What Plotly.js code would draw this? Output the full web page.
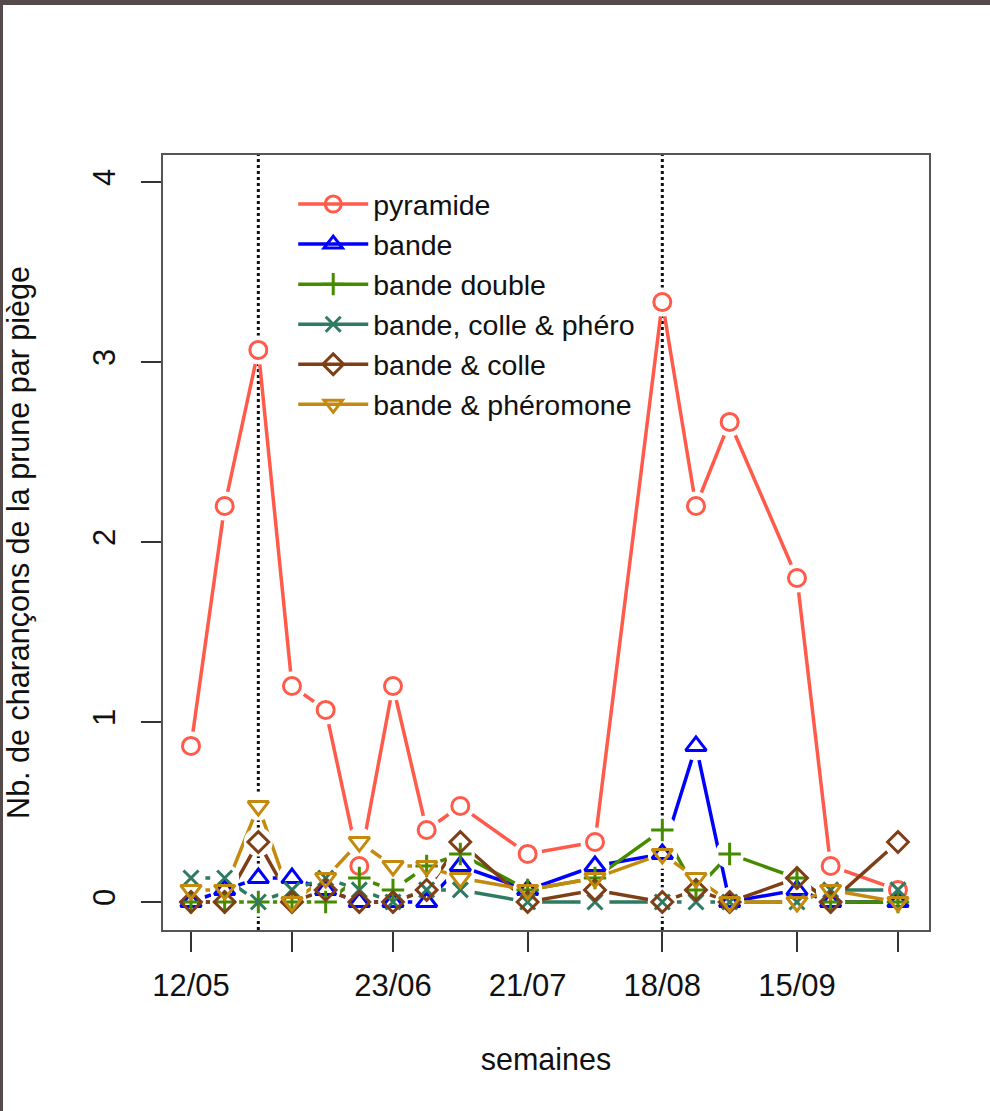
<!DOCTYPE html>
<html>
<head>
<meta charset="utf-8">
<script src="https://cdn.plot.ly/plotly-3.0.1.min.js"></script>
<style>
html,body{margin:0;padding:0;background:#fff;}
#wrap{position:relative;width:990px;height:1111px;overflow:hidden;}
#chart{width:990px;height:1111px;}
#topbar{position:absolute;left:0;top:0;width:990px;height:5px;background:#554b4b;}
#leftbar{position:absolute;left:0;top:0;width:3px;height:1111px;background:#554b4b;}
</style>
</head>
<body>
<div id="wrap">
<div id="chart"></div>
<div id="topbar"></div>
<div id="leftbar"></div>
</div>
<script>
// Sampling dates (weeks)
const dates = ['2014-05-12','2014-05-19','2014-05-26','2014-06-02','2014-06-09','2014-06-16','2014-06-23','2014-06-30','2014-07-07','2014-07-21','2014-08-04','2014-08-18','2014-08-25','2014-09-01','2014-09-15','2014-09-22','2014-10-06'];

// Series values (nb. de charançons par piège)
const pyramide        = [0.867, 2.2, 3.067, 1.2, 1.067, 0.2, 1.2, 0.4, 0.533, 0.267, 0.333, 3.333, 2.2, 2.667, 1.8, 0.2, 0.067];
const bande           = [0, 0.067, 0.133, 0.133, 0.067, 0, 0, 0, 0.2, 0.067, 0.2, 0.267, 0.867, 0, 0.067, 0, 0];
const bandeDouble     = [0, 0, 0, 0, 0, 0.133, 0.067, 0.2, 0.267, 0.067, 0.133, 0.4, 0.067, 0.267, 0.133, 0, 0];
const bandeCollePhero = [0.133, 0.133, 0, 0.067, 0.133, 0.067, 0, 0.067, 0.067, 0, 0, 0, 0, 0, 0, 0.067, 0.067];
const bandeColle      = [0, 0, 0.333, 0, 0.067, 0, 0, 0.067, 0.333, 0, 0.067, 0, 0.067, 0, 0.133, 0, 0.333];
const bandePhero      = [0.067, 0.067, 0.533, 0, 0.133, 0.333, 0.2, 0.2, 0.133, 0.067, 0.133, 0.267, 0.133, 0, 0, 0.067, 0];

const seriesNames = ['pyramide','bande','bande double','bande, colle & phéro','bande & colle','bande & phéromone'];

// Axis ticks
const xTickVals = ['2014-05-12','2014-06-02','2014-06-23','2014-07-21','2014-08-18','2014-09-15','2014-10-06'];
const xTickText = ['12/05','','23/06','21/07','18/08','15/09',''];
const yTickVals = [0,1,2,3,4];
const yTickText = ['0','1','2','3','4'];

// Reference dates (dotted vertical lines)
const vlines = ['2014-05-26','2014-08-18'];

const seriesValues = [pyramide, bande, bandeDouble, bandeCollePhero, bandeColle, bandePhero];
const colors  = ['#ff5a4a','#0000ff','#458b00','#2e7b60','#7f3f16','#c48a10'];
const symbols = ['circle-open','triangle-up-open','cross-thin-open','x-thin-open','diamond-open','triangle-down-open'];
const sizes   = [17, 18, 16, 15, 16, 18];

const traces = [];
// 1) lines (with legend)
seriesValues.forEach((vals, i) => {
  traces.push({
    type:'scatter', mode:'lines+markers', name: seriesNames[i],
    x: dates, y: vals,
    line:{color: colors[i], width:3.5},
    marker:{symbol: symbols[i], size: sizes[i], color: colors[i], line:{color: colors[i], width:3}},
    hoverinfo:'skip', showlegend:true
  });
});
// 2) white masks to create the gaps of R's type="b"
seriesValues.forEach((vals, i) => {
  traces.push({
    type:'scatter', mode:'markers', x: dates, y: vals,
    marker:{symbol:'circle', size:29, color:'#ffffff', line:{width:0}},
    hoverinfo:'skip', showlegend:false
  });
});
// 3) open markers on top
seriesValues.forEach((vals, i) => {
  traces.push({
    type:'scatter', mode:'markers', x: dates, y: vals,
    marker:{symbol: symbols[i], size: sizes[i], color: colors[i], line:{color: colors[i], width:3}},
    hoverinfo:'skip', showlegend:false
  });
});

const font = {family:'"Liberation Sans", Arial, Helvetica, sans-serif', size:31, color:'#111'};
const tfont = {family:font.family, size:30.5, color:'#111'};

const layout = {
  width:990, height:1111,
  margin:{l:163, r:61, t:155, b:181},
  paper_bgcolor:'#ffffff', plot_bgcolor:'#ffffff',
  font: font,
  showlegend:true,
  legend:{x:0.17, y:0.969, xanchor:'left', yanchor:'top', bgcolor:'rgba(0,0,0,0)',
          font:{family:font.family, size:28.5, color:'#111'}, itemwidth:70, tracegroupgap:0},
  xaxis:{
    type:'date', range:['2014-05-06 04:18','2014-10-12 10:50'],
    tickmode:'array', tickvals:xTickVals, ticktext:xTickText,
    ticks:'outside', ticklen:20, tickwidth:2, tickcolor:'#333',
    showline:true, mirror:true, linecolor:'#555', linewidth:2,
    showgrid:false, zeroline:false, ticklabelstandoff:7,
    tickfont:font,
    title:{text:'semaines', font:tfont, standoff:46}
  },
  yaxis:{
    range:[-0.1556, 4.15],
    tickmode:'array', tickvals:yTickVals, ticktext:yTickText, tickangle:-90,
    ticks:'outside', ticklen:20, tickwidth:2, tickcolor:'#333',
    showline:true, mirror:true, linecolor:'#555', linewidth:2,
    showgrid:false, zeroline:false, ticklabelstandoff:14,
    tickfont:font,
    title:{text:'Nb. de charançons de la prune par piège', font:tfont, standoff:48}
  },
  shapes: vlines.map(d => ({
    type:'line', xref:'x', yref:'paper', x0:d, x1:d, y0:0, y1:1,
    line:{color:'#111', width:3, dash:'dot'}, layer:'below'
  }))
};

Plotly.newPlot('chart', traces, layout, {displayModeBar:false, staticPlot:true});
</script>
</body>
</html>
